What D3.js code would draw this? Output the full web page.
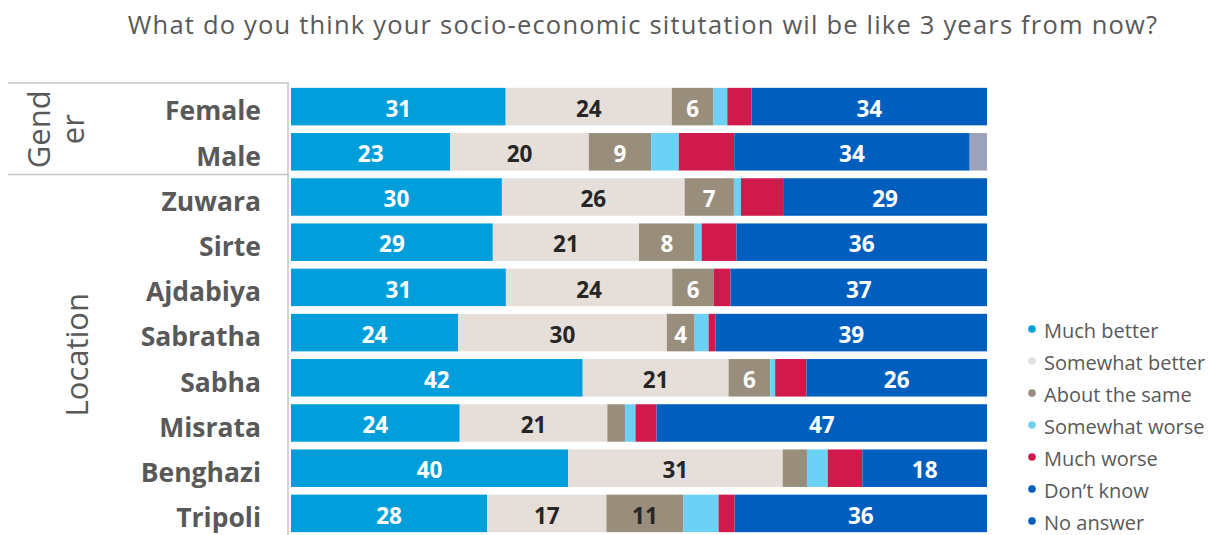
<!DOCTYPE html>
<html>
<head>
<meta charset="utf-8">
<script src="https://cdn.jsdelivr.net/npm/d3@7"></script>
<style>
  html, body { margin: 0; padding: 0; background: #fff; }
  svg { display: block; }
  text { font-family: "Open Sans", Lato, sans-serif; }
</style>
</head>
<body>
<svg id="chart" width="1210" height="535"></svg>
<script>
// Survey answers, percent of respondents per row
const categories = ["Female", "Male", "Zuwara", "Sirte", "Ajdabiya", "Sabratha", "Sabha", "Misrata", "Benghazi", "Tripoli"];
const groups = [
  { name: ["Gend", "er"], rows: ["Female", "Male"] },
  { name: ["Location"], rows: ["Zuwara", "Sirte", "Ajdabiya", "Sabratha", "Sabha", "Misrata", "Benghazi", "Tripoli"] }
];
const seriesNames = ["Much better", "Somewhat better", "About the same", "Somewhat worse", "Much worse", "Don\u2019t know", "No answer"];

const muchBetter     = [31, 23, 30, 29, 31, 24, 42, 24, 40, 28];
const somewhatBetter = [24, 20, 26, 21, 24, 30, 21, 21, 31, 17];
const aboutSame      = [6,  9,  7,  8,  6,  4,  6,  2.5, 3.5, 11];
const somewhatWorse  = [2,  4,  1,  1,  0,  2,  0.7, 1.5, 3, 5];
const muchWorse      = [3.5, 8, 6,  5,  2.4, 1, 4.5, 3, 5, 2.3];
const dontKnow       = [34, 34, 29, 36, 37, 39, 26, 47, 18, 36];
const noAnswer       = [0,  2.5, 0, 0,  0,  0,  0,  0,  0,  0];

const title = "What do you think your socio-economic situtation wil be like 3 years from now?";

const colors = ["#009fdb", "#e5ded9", "#998d7c", "#6dd0f5", "#d01a4b", "#005fbe", "#9aa2bc"];
const legendColors = ["#009fdb", "#e5ded9", "#998d7c", "#6dd0f5", "#d01a4b", "#005fbe", "#005fbe"];
// which series get value labels, and the minimum value shown
const labelled = { "Much better": 4, "Somewhat better": 4, "About the same": 4, "Don\u2019t know": 4 };
const darkLabelSeries = ["Somewhat better"];
const darkLabelCells = ["Tripoli|About the same"];

const seriesValues = [muchBetter, somewhatBetter, aboutSame, somewhatWorse, muchWorse, dontKnow, noAnswer];
const rows = categories.map((c, i) => {
  const r = { category: c };
  seriesNames.forEach((s, k) => { r[s] = seriesValues[k][i]; });
  return r;
});

const svg = d3.select("#chart");
const textGrey = "#595959";

const x = d3.scaleLinear().domain([0, 1]).range([291, 987]);
const y = d3.scaleBand().domain(categories).range([84, 536]).paddingInner(0.17).paddingOuter(0.085);
const color = d3.scaleOrdinal().domain(seriesNames).range(colors);

const stacked = d3.stack().keys(seriesNames).offset(d3.stackOffsetExpand)(rows);

// title
svg.append("text")
  .attr("x", 643).attr("y", 34)
  .attr("text-anchor", "middle")
  .attr("font-size", 25.5)
  .attr("letter-spacing", 1.2)
  .attr("fill", textGrey)
  .text(title);

// bars
const layer = svg.append("g").selectAll("g").data(stacked).join("g")
  .attr("fill", d => color(d.key));
layer.selectAll("rect").data(d => d.map(v => ({ v, key: d.key }))).join("rect")
  .attr("x", d => x(d.v[0]))
  .attr("y", d => y(d.v.data.category))
  .attr("width", d => Math.max(0, x(d.v[1]) - x(d.v[0])))
  .attr("height", y.bandwidth());

// value labels
const labels = [];
stacked.forEach(s => {
  if (!(s.key in labelled)) return;
  s.forEach(v => {
    const val = v.data[s.key];
    if (val >= labelled[s.key]) labels.push({ key: s.key, v, val });
  });
});
svg.append("g").selectAll("text").data(labels).join("text")
  .attr("x", d => (x(d.v[0]) + x(d.v[1])) / 2)
  .attr("y", d => y(d.v.data.category) + y.bandwidth() / 2)
  .attr("dy", "0.45em")
  .attr("text-anchor", "middle")
  .attr("font-size", 22.5)
  .attr("font-weight", 700)
  .attr("fill", d => (darkLabelSeries.includes(d.key) || darkLabelCells.includes(d.v.data.category + "|" + d.key)) ? "#262626" : "#ffffff")
  .text(d => d3.format("d")(Math.round(d.val)));

// category axis
const yAxis = d3.axisLeft(y).tickSize(0).tickPadding(0);
const axisG = svg.append("g").attr("transform", "translate(261,0)").call(yAxis);
axisG.select(".domain").remove();
axisG.selectAll("text")
  .attr("font-size", 26.5)
  .attr("font-weight", 700)
  .attr("fill", textGrey)
  .attr("font-family", "'Open Sans', Lato, sans-serif")
  .attr("dy", "0.52em");

// group frame lines
const lineColor = "#c4c4c4";
const frameTop = y.range()[0] - 1, frameBottom = 535;
svg.append("line").attr("x1", 8).attr("x2", 289).attr("y1", frameTop).attr("y2", frameTop)
  .attr("stroke", lineColor).attr("stroke-width", 1.5);
svg.append("line").attr("x1", 288).attr("x2", 288).attr("y1", frameTop).attr("y2", frameBottom)
  .attr("stroke", lineColor).attr("stroke-width", 1.5);
const step = y.step();
groups.forEach((g, gi) => {
  const y0 = y(g.rows[0]) - (step - y.bandwidth()) / 2;
  const y1 = y(g.rows[g.rows.length - 1]) + y.bandwidth() + (step - y.bandwidth()) / 2;
  if (gi > 0) {
    svg.append("line").attr("x1", 8).attr("x2", 288).attr("y1", y0).attr("y2", y0)
      .attr("stroke", lineColor).attr("stroke-width", 1.5);
  }
  const cy = (y0 + Math.min(y1, frameBottom)) / 2;
  const lineGap = 34;
  const cx = gi === 0 ? 56 : 77;
  const t = svg.append("text")
    .attr("transform", `translate(${cx},${cy}) rotate(-90)`)
    .attr("text-anchor", "middle")
    .attr("font-size", 31)
    .attr("fill", textGrey);
  g.name.forEach((ln, li) => {
    t.append("tspan").attr("x", 0)
      .attr("y", (li - (g.name.length - 1) / 2) * lineGap)
      .attr("dy", "0.35em")
      .text(ln);
  });
});

// legend
const legend = svg.append("g").attr("transform", "translate(1032,331)");
const legendItems = legend.selectAll("g").data(seriesNames).join("g")
  .attr("transform", (d, i) => `translate(0,${i * 32})`);
legendItems.append("circle").attr("r", 3.8).attr("cy", -2).attr("fill", (d, i) => legendColors[i]);
legendItems.append("text").attr("x", 12).attr("dy", "0.35em")
  .attr("font-size", 20).attr("fill", textGrey).text(d => d);
</script>
</body>
</html>
